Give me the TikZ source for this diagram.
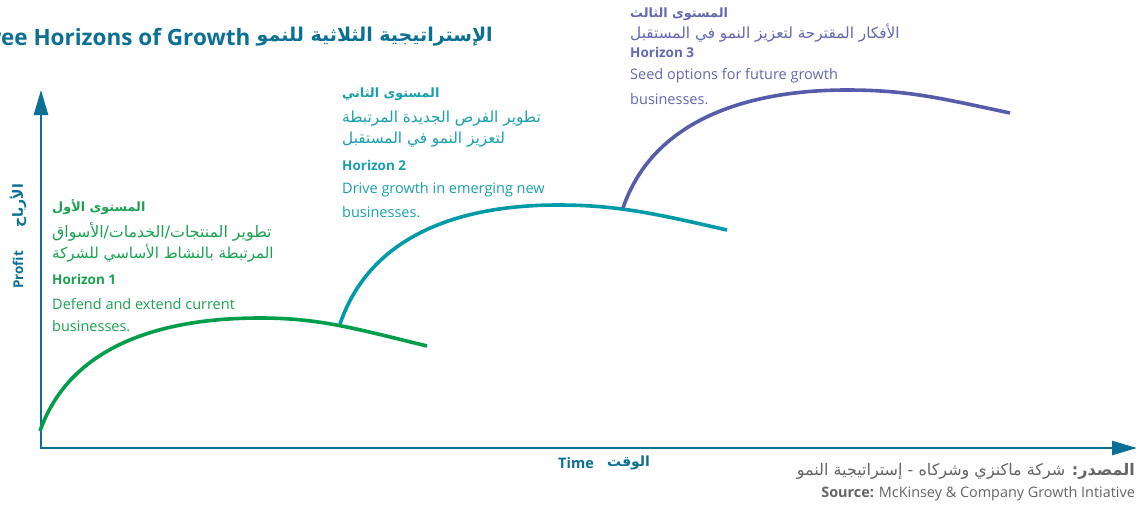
\documentclass[tikz,border=0pt]{standalone}
\usepackage{fontspec}
\setmainfont{Open Sans}
\newfontfamily\arabicfont[Script=Arabic]{DejaVu Sans}
\TeXXeTstate=1
\usetikzlibrary{arrows.meta,calc}
\definecolor{axisblue}{RGB}{11,112,148}
\definecolor{hgreen}{RGB}{0,158,75}
\definecolor{hgreentxt}{RGB}{26,162,82}
\definecolor{hteal}{RGB}{0,154,168}
\definecolor{htealtxt}{RGB}{26,160,172}
\definecolor{hpurple}{RGB}{86,92,170}
\definecolor{hpurpletxt}{RGB}{100,104,176}
\definecolor{srcgrey}{RGB}{100,100,100}
\newcommand\artxt[1]{{\arabicfont\beginR #1\endR}}
\tikzset{
  txt/.style={inner sep=0pt, anchor=west, font=\fontsize{14.5}{16}\selectfont},
  txtb/.style={inner sep=0pt, anchor=west, font=\fontsize{13.5}{15}\selectfont\bfseries},
  artx/.style={inner sep=0pt, anchor=west, font=\fontsize{15.3}{17}\selectfont},
  artxb/.style={inner sep=0pt, anchor=west, font=\fontsize{12.8}{15}\selectfont\bfseries},
  curve/.style={line width=3.6pt, line cap=butt},
  axisline/.style={draw=axisblue, line width=2.6pt},
}
\begin{document}
\begin{tikzpicture}[x=1pt,y=-1pt]
\clip (0,0) rectangle (1142,506);
\fill[white] (0,0) rectangle (1142,506);

% title
\node[inner sep=0pt, anchor=east, text=axisblue, font=\fontsize{19}{22}\selectfont\bfseries] (titlear) at (493,37) {\artxt{الإستراتيجية الثلاثية للنمو}};
\node[inner sep=0pt, anchor=east, text=axisblue, font=\fontsize{22.5}{25}\selectfont\bfseries] (titlela) at ([xshift=-6pt]titlear.west) {Three Horizons of Growth};

% axes
\coordinate (O) at (41,448);
\coordinate (ytip) at (41,90);
\coordinate (xtip) at (1137,448);
\draw[axisline, {Triangle[length=25pt,width=14pt]}-{Triangle[length=25pt,width=14pt]}] (ytip) -- (O) -- (xtip);

\node[inner sep=0pt, rotate=90, text=axisblue, font=\fontsize{13.5}{15}\selectfont\bfseries] (profit) at (18,270) {Profit};
\node[inner sep=0pt, rotate=90, text=axisblue, font=\fontsize{14}{16}\selectfont\bfseries] (profitar) at (18,206) {\artxt{الأرباح}};
\node[inner sep=0pt, anchor=west, text=axisblue, font=\fontsize{14.5}{16}\selectfont\bfseries] (time) at (558,463) {Time};
\node[inner sep=0pt, anchor=west, text=axisblue, font=\fontsize{14}{16}\selectfont\bfseries] (timear) at (607,463) {\artxt{الوقت}};

% curves
\coordinate (S1) at (40,431); \coordinate (P1) at (260,318); \coordinate (E1) at (427,346);
\coordinate (S2) at (340,324); \coordinate (P2) at (558,205); \coordinate (E2) at (727,230);
\coordinate (S3) at (623,208); \coordinate (P3) at (847,90);  \coordinate (E3) at (1010,113);
\draw[curve, hgreen] (S1) .. controls ($(S1)+(30,-85)$) and ($(P1)+(-100,0)$) .. (P1)
   .. controls ($(P1)+(60,0)$) and ($(E1)+(-70,-17)$) .. (E1);
\draw[curve, hteal] (S2) .. controls ($(S2)+(30,-88)$) and ($(P2)+(-100,0)$) .. (P2)
   .. controls ($(P2)+(60,0)$) and ($(E2)+(-70,-16)$) .. (E2);
\draw[curve, hpurple] (S3) .. controls ($(S3)+(30,-88)$) and ($(P3)+(-100,0)$) .. (P3)
   .. controls ($(P3)+(60,0)$) and ($(E3)+(-70,-15)$) .. (E3);

% horizon 1
\node[artxb, text=hgreentxt] (h1a) at (52,207) {\artxt{المستوى الأول}};
\node[artx, text=hgreentxt, font=\fontsize{15.8}{17}\selectfont] (h1b) at (52,232) {\artxt{تطوير المنتجات/الخدمات/الأسواق}};
\node[artx, text=hgreentxt, font=\fontsize{15.1}{17}\selectfont] (h1c) at (52,253) {\artxt{المرتبطة بالنشاط الأساسي للشركة}};
\node[txtb, text=hgreentxt] (h1d) at (52,279) {Horizon 1};
\node[txt, text=hgreentxt] (h1e) at (52,304) {Defend and extend current};
\node[txt, text=hgreentxt] (h1f) at (52,326) {businesses.};

% horizon 2
\node[artxb, text=htealtxt] (h2a) at (342,94) {\artxt{المستوى الثاني}};
\node[artx, text=htealtxt] (h2b) at (342,119) {\artxt{تطوير الفرص الجديدة المرتبطة}};
\node[artx, text=htealtxt] (h2c) at (342,140) {\artxt{لتعزيز النمو في المستقبل}};
\node[txtb, text=htealtxt] (h2d) at (342,165) {Horizon 2};
\node[txt, text=htealtxt] (h2e) at (342,190) {Drive growth in emerging new};
\node[txt, text=htealtxt] (h2f) at (342,212) {businesses.};

% horizon 3
\node[artxb, text=hpurpletxt] (h3a) at (630,14) {\artxt{المستوى الثالث}};
\node[artx, text=hpurpletxt] (h3b) at (630,33) {\artxt{الأفكار المقترحة لتعزيز النمو في المستقبل}};
\node[txtb, text=hpurpletxt] (h3d) at (630,52) {Horizon 3};
\node[txt, text=hpurpletxt] (h3e) at (630,76) {Seed options for future growth};
\node[txt, text=hpurpletxt] (h3f) at (630,99) {businesses.};

% source
\node[inner sep=0pt, anchor=east, text=srcgrey, font=\fontsize{16}{18}\selectfont] (srcar) at (1135,471) {\artxt{{\bfseries المصدر:} شركة ماكنزي وشركاه - إستراتيجية النمو}};
\node[inner sep=0pt, anchor=east, text=srcgrey, font=\fontsize{14.4}{16}\selectfont] (srcla) at (1135,494) {{\bfseries Source:} McKinsey \& Company Growth Intiative};
\end{tikzpicture}
\end{document}
